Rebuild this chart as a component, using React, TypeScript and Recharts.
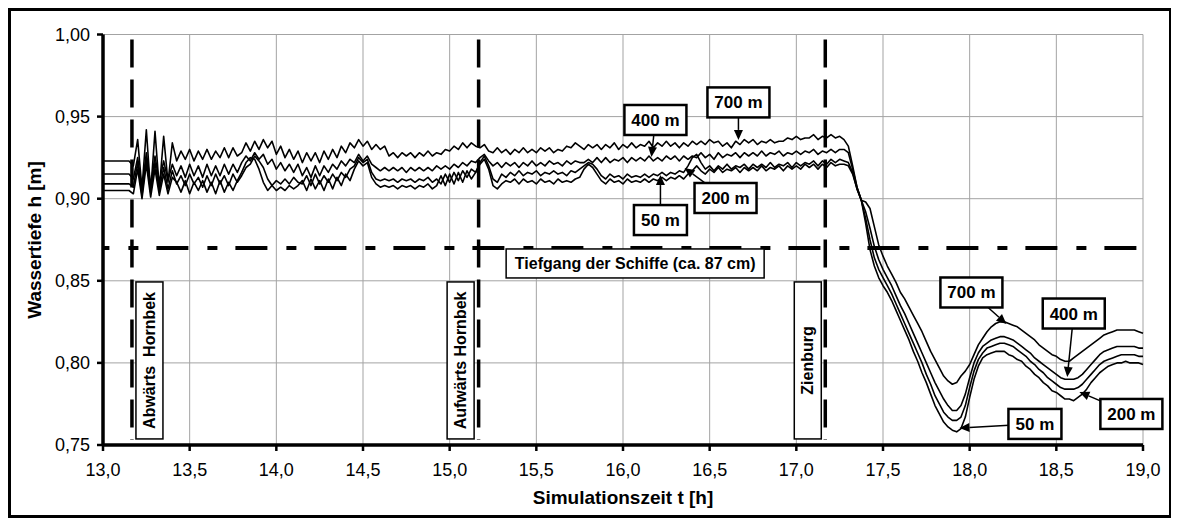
import {
  LineChart,
  Line,
  XAxis,
  YAxis,
  CartesianGrid,
  ReferenceLine,
  ReferenceDot,
  Customized,
} from 'recharts'

// Simulationszeit t [h]: one sample every 0,025 h from 13,0 h
const T_START = 13.0
const T_STEP = 0.025

// Wassertiefe h in mm at the four gauges (50 m, 200 m, 400 m, 700 m)
const h700 = [
  923, 923, 923, 923, 923, 923, 923,
  920, 936, 906, 942, 904, 941, 906, 938, 910, 934,
  923, 929, 924, 930, 923, 929, 924, 930, 924, 929, 925, 931, 925, 931, 926,
  928, 934, 929, 935, 930, 936,
  931, 935, 927, 932, 925, 930, 924, 929,
  922, 928, 923, 928, 922, 929, 924, 930, 925, 932, 928, 934,
  931, 936, 932, 935,
  930, 933, 930, 932,
  926, 928, 925, 928, 926, 928, 925, 928, 926, 929, 926, 928,
  927, 930, 929, 932, 930, 934, 931, 934, 932,
  931, 933, 929,
  928, 931, 928, 930, 927, 930, 928, 931, 928, 930, 928, 931, 929, 931, 928, 930, 929, 932, 931, 934, 932,
  930, 933, 931, 933,
  930, 933, 931, 934, 930, 933, 931, 934, 931, 933, 932, 935, 931, 934, 932, 935, 932, 934, 931, 934, 932, 935,
  933, 935, 933, 936, 934, 935, 932, 934, 931, 935, 933, 936, 934, 936, 933, 935, 934, 936, 934, 935,
  935, 937, 936, 938, 936, 937, 937, 939, 936, 938, 937, 939, 937, 938,
  936, 932, 920, 907, 899, 898, 894, 883, 872, 865,
  859, 854, 849, 843, 839, 834, 829, 824, 819, 813,
  807, 802, 797, 792, 789, 787, 788, 792, 795, 799,
  805, 811, 815, 819, 822, 824, 825, 825, 824, 823,
  822, 820, 818, 816, 814, 811, 809, 807, 805, 804,
  802, 801, 801, 803, 805, 807, 809, 811, 813, 815,
  817, 818, 819, 820, 820, 820, 820, 820, 819, 818,
]

const h400 = [
  915, 915, 915, 915, 915, 915, 915,
  912, 925, 906, 928, 908, 926, 910, 923, 911, 921,
  914, 920, 913, 921, 914, 920, 913, 921, 914, 920, 914, 921, 915, 921, 916,
  922, 926, 923, 928, 924, 927,
  921, 924, 918, 922, 917, 921, 916, 921,
  914, 919, 913, 920, 914, 920, 916, 921, 918, 923, 920, 924,
  922, 927, 923, 926,
  921, 919, 917, 919,
  917, 919, 917, 919, 916, 919, 917, 919, 917, 919, 917, 920,
  918, 920, 918, 921, 919, 922, 920, 923, 922,
  925, 927, 923,
  920, 922, 919, 922, 920, 922, 919, 922, 920, 923, 920, 922, 920, 923, 921, 922, 920, 923, 921, 923, 922,
  922, 924, 922, 925,
  922, 925, 922, 924, 923, 925, 922, 925, 923, 925, 923, 926, 923, 925, 923, 926, 924, 926, 923, 926, 924, 926,
  925, 928, 925, 927, 924, 928, 925, 927, 926, 928, 925, 928, 926, 928, 926, 929, 926, 928, 927, 929,
  926, 928, 927, 929, 927, 929, 928, 930, 927, 929, 928, 930, 928, 930,
  930, 928, 918, 907, 899, 892, 882, 871, 863, 857,
  852, 847, 841, 835, 830, 824, 818, 812, 806, 800,
  794, 788, 783, 778, 774, 771, 771, 774, 781, 791,
  800, 806, 810, 812, 814, 815, 816, 816, 815, 814,
  812, 810, 808, 806, 803, 801, 799, 797, 795, 793,
  791, 790, 790, 790, 791, 793, 796, 799, 802, 805,
  807, 808, 809, 810, 810, 810, 810, 810, 809, 809,
]

const h200 = [
  909, 909, 909, 909, 909, 909, 909,
  907, 922, 902, 925, 904, 922, 905, 919, 906, 917,
  909, 914, 908, 915, 909, 913, 907, 914, 908, 915, 909, 914, 908, 915, 910,
  914, 919, 921, 926, 923, 919,
  912, 908, 911, 909, 912, 909, 913, 910,
  909, 914, 908, 915, 909, 914, 910, 915, 911, 916, 913, 918,
  920, 925, 922, 924,
  916, 912, 911, 912,
  911, 912, 910, 912, 911, 912, 910, 912, 911, 913, 910, 912,
  909, 915, 910, 916, 911, 917, 913, 918, 916,
  922, 926, 920,
  912, 910, 915, 913, 916, 914, 917, 914, 916, 915, 917, 914, 916, 915, 917, 915, 916, 914, 917, 916, 918,
  920, 922, 921, 918,
  914, 912, 915, 913, 914, 912, 915, 913, 914, 913, 915, 913, 915, 914, 916, 914, 916, 915, 917, 916, 920, 925,
  927, 922, 918, 920, 917, 920, 918, 921, 918, 920, 919, 921, 918, 921, 919, 921, 919, 922, 919, 921,
  920, 922, 919, 922, 920, 922, 921, 923, 920, 923, 921, 924, 922, 924,
  923, 922, 916, 906, 899, 888, 875, 864, 857, 852,
  847, 842, 836, 830, 824, 818, 812, 806, 800, 793,
  787, 780, 775, 770, 767, 765, 765, 767, 774, 785,
  795, 802, 806, 809, 810, 811, 812, 812, 811, 810,
  808, 806, 804, 801, 799, 796, 794, 791, 789, 787,
  785, 784, 784, 784, 785, 787, 790, 793, 796, 799,
  801, 802, 803, 804, 805, 805, 805, 805, 804, 804,
]

const h50 = [
  905, 905, 905, 905, 905, 905, 905,
  903, 918, 900, 921, 901, 918, 902, 915, 903, 913,
  910, 904, 911, 903, 910, 905, 911, 904, 910, 903, 911, 904, 910, 905, 911,
  916, 922, 925, 924, 918, 910,
  905, 908, 905, 907, 905, 908, 906, 908,
  911, 905, 912, 906, 911, 905, 912, 906, 913, 908, 915, 911,
  918, 923, 920, 922,
  913, 909, 907, 908,
  907, 908, 906, 908, 907, 908, 906, 908, 907, 909, 906, 908,
  914, 908, 915, 909, 916, 910, 917, 912, 916,
  921, 924, 918,
  908, 906, 909, 911, 910, 912, 909, 912, 910, 911, 909, 912, 910, 911, 909, 912, 910, 911, 910, 912, 913,
  918, 921, 919, 915,
  911, 909, 912, 910, 911, 909, 912, 910, 911, 910, 912, 910, 912, 911, 913, 911, 913, 912, 914, 912, 915, 917,
  920, 917, 915, 918, 916, 919, 916, 918, 917, 919, 916, 919, 917, 919, 917, 920, 917, 919, 918, 920,
  917, 920, 918, 920, 918, 921, 919, 921, 918, 921, 919, 922, 920, 921,
  921, 920, 915, 906, 899, 885, 869, 859, 852, 847,
  843, 838, 832, 826, 820, 814, 807, 801, 794, 788,
  781, 774, 769, 764, 761, 759, 758, 760, 767, 779,
  790, 798, 803, 805, 806, 807, 807, 807, 805, 804,
  802, 801, 798, 796, 793, 791, 788, 786, 783, 782,
  780, 778, 778, 777, 779, 781, 784, 788, 791, 794,
  796, 798, 799, 800, 800, 801, 800, 800, 800, 799,
]

const xTicks = [13, 13.5, 14, 14.5, 15, 15.5, 16, 16.5, 17, 17.5, 18, 18.5, 19]
const yTicks = [0.75, 0.8, 0.85, 0.9, 0.95, 1.0]

// ship passages and draft
const passageTimes = [13.167, 15.167, 17.167]
const passageNames = ['Abwärts  Hornbek', 'Aufwärts Hornbek', 'Zienburg']
const draftDepth = 0.87
const draftLabel = 'Tiefgang der Schiffe (ca. 87 cm)'

// gauge callouts: where each arrow points
const calloutLabels = ['400 m', '700 m', '50 m', '200 m', '700 m', '400 m', '200 m', '50 m']
const calloutT = [16.164, 16.666, 16.216, 16.355, 18.212, 18.563, 18.633, 17.941]
const calloutH = [0.9254, 0.9358, 0.9144, 0.9187, 0.8237, 0.7914, 0.7823, 0.7604]

// box centre relative to arrow tip (px)
const calloutOffsets = [
  [4, -37], [0, -37.5], [0, 45], [41, 30],
  [-35, -31.5], [6.5, -63.5], [52, 22], [75.5, -4],
]
const passageOffsets = [17.5, -18, -17.5]

const FONT = '"Liberation Sans", Arial, sans-serif'

const rows = h700.map((_, i) => ({
  t: +(T_START + i * T_STEP).toFixed(3),
  h50: h50[i] / 1000,
  h200: h200[i] / 1000,
  h400: h400[i] / 1000,
  h700: h700[i] / 1000,
}))

const fmt = (d: number) => (v: number) => v.toFixed(d).replace('.', ',')

function Callout({ cx, cy, text, dx, dy }: any) {
  const bx = cx + dx
  const by = cy + dy
  const w = text.length > 4 ? 62 : 53
  const h = 30
  const ang = Math.atan2(cy - by, cx - bx)
  const len = 10
  const half = 4.5
  const hx = cx - len * Math.cos(ang)
  const hy = cy - len * Math.sin(ang)
  const pts = [
    `${cx},${cy}`,
    `${hx - half * Math.sin(ang)},${hy + half * Math.cos(ang)}`,
    `${hx + half * Math.sin(ang)},${hy - half * Math.cos(ang)}`,
  ].join(' ')
  return (
    <g>
      <line x1={bx} y1={by} x2={hx} y2={hy} stroke="#000" strokeWidth={1.5} />
      <polygon points={pts} fill="#000" />
      <rect x={bx - w / 2} y={by - h / 2} width={w} height={h} fill="#fff" stroke="#000" strokeWidth={2.5} />
      <text x={bx} y={by + 6} textAnchor="middle" fontSize={17} fontWeight="bold" fontFamily={FONT} fill="#000">
        {text}
      </text>
    </g>
  )
}

function PassageBox({ cx, cy, text, dx }: any) {
  const x = cx + dx
  return (
    <g>
      <rect x={x - 13.5} y={cy - 78.5} width={27} height={157} fill="#fff" stroke="#000" strokeWidth={1.5} />
      <text
        x={x}
        y={cy}
        transform={`rotate(-90 ${x} ${cy})`}
        dy={5.5}
        textAnchor="middle"
        fontSize={16}
        fontWeight="bold"
        fontFamily={FONT}
        fill="#000"
        style={{ whiteSpace: 'pre' }}
      >
        {text}
      </text>
    </g>
  )
}

function DraftBox({ cx, cy }: any) {
  const y = cy + 15.5
  return (
    <g>
      <rect x={cx - 129} y={y - 14.5} width={258} height={29} fill="#fff" stroke="#000" strokeWidth={1.5} />
      <text x={cx} y={y + 5.5} textAnchor="middle" fontSize={16} fontWeight="bold" fontFamily={FONT} fill="#000">
        {draftLabel}
      </text>
    </g>
  )
}

function Titles() {
  return (
    <g fontFamily={FONT} fontWeight="bold" fontSize={19} fill="#000">
      <text x={615} y={496} textAnchor="middle">Simulationszeit t [h]</text>
      <text x={33} y={232} textAnchor="middle" transform="rotate(-90 33 232)">Wassertiefe h [m]</text>
    </g>
  )
}

export default function App() {
  return (
    <div
      style={{
        position: 'relative',
        width: 1164,
        height: 510,
        border: '3px solid #000',
        boxSizing: 'border-box',
        background: '#fff',
        fontFamily: FONT,
      }}
    >
      <div style={{ position: 'absolute', left: -3, top: -3 }}>
        <LineChart width={1164} height={511} data={rows} margin={{ top: 26.5, right: 29, bottom: 0, left: 0 }}>
          <CartesianGrid stroke="#a3a3a3" strokeWidth={1} />
          <XAxis
            dataKey="t"
            type="number"
            domain={[13, 19]}
            ticks={xTicks}
            interval={0}
            tickFormatter={fmt(1)}
            height={74}
            tickSize={6}
            tickMargin={12}
            axisLine={{ stroke: '#000', strokeWidth: 3.5 }}
            tickLine={{ stroke: '#000', strokeWidth: 2.5 }}
            tick={{ fill: '#000', fontSize: 18, fontFamily: FONT }}
          />
          <YAxis
            type="number"
            domain={[0.75, 1]}
            ticks={yTicks}
            interval={0}
            tickFormatter={fmt(2)}
            width={95}
            tickSize={6}
            tickMargin={7}
            axisLine={{ stroke: '#000', strokeWidth: 3.5 }}
            tickLine={{ stroke: '#000', strokeWidth: 2.5 }}
            tick={{ fill: '#000', fontSize: 18, fontFamily: FONT }}
          />
          <ReferenceLine
            segment={[{ x: 13, y: draftDepth }, { x: 19, y: draftDepth }]}
            stroke="#000"
            strokeWidth={4}
            strokeDasharray="32 19 10 18"
            strokeDashoffset={25.6}
          />
          {passageTimes.map((t) => (
            <ReferenceLine
              key={t}
              segment={[{ x: t, y: 0.997 }, { x: t, y: 0.753 }]}
              stroke="#000"
              strokeWidth={3.5}
              strokeDasharray="28 12"
            />
          ))}
          <Line dataKey="h50" stroke="#000" strokeWidth={1.6} dot={false} strokeLinejoin="round" isAnimationActive={false} />
          <Line dataKey="h200" stroke="#000" strokeWidth={1.6} dot={false} strokeLinejoin="round" isAnimationActive={false} />
          <Line dataKey="h400" stroke="#000" strokeWidth={1.6} dot={false} strokeLinejoin="round" isAnimationActive={false} />
          <Line dataKey="h700" stroke="#000" strokeWidth={1.6} dot={false} strokeLinejoin="round" isAnimationActive={false} />
          <ReferenceDot x={16.07} y={draftDepth} r={0} shape={(p: any) => <DraftBox cx={p.cx} cy={p.cy} />} />
          {passageTimes.map((t, k) => (
            <ReferenceDot
              key={passageNames[k]}
              x={t}
              y={0.8015}
              r={0}
              shape={(p: any) => <PassageBox cx={p.cx} cy={p.cy} text={passageNames[k]} dx={passageOffsets[k]} />}
            />
          ))}
          {calloutLabels.map((label, k) => (
            <ReferenceDot
              key={k}
              x={calloutT[k]}
              y={calloutH[k]}
              r={0}
              shape={(p: any) => (
                <Callout cx={p.cx} cy={p.cy} text={label} dx={calloutOffsets[k][0]} dy={calloutOffsets[k][1]} />
              )}
            />
          ))}
          <Customized component={Titles} />
        </LineChart>
      </div>
    </div>
  )
}
